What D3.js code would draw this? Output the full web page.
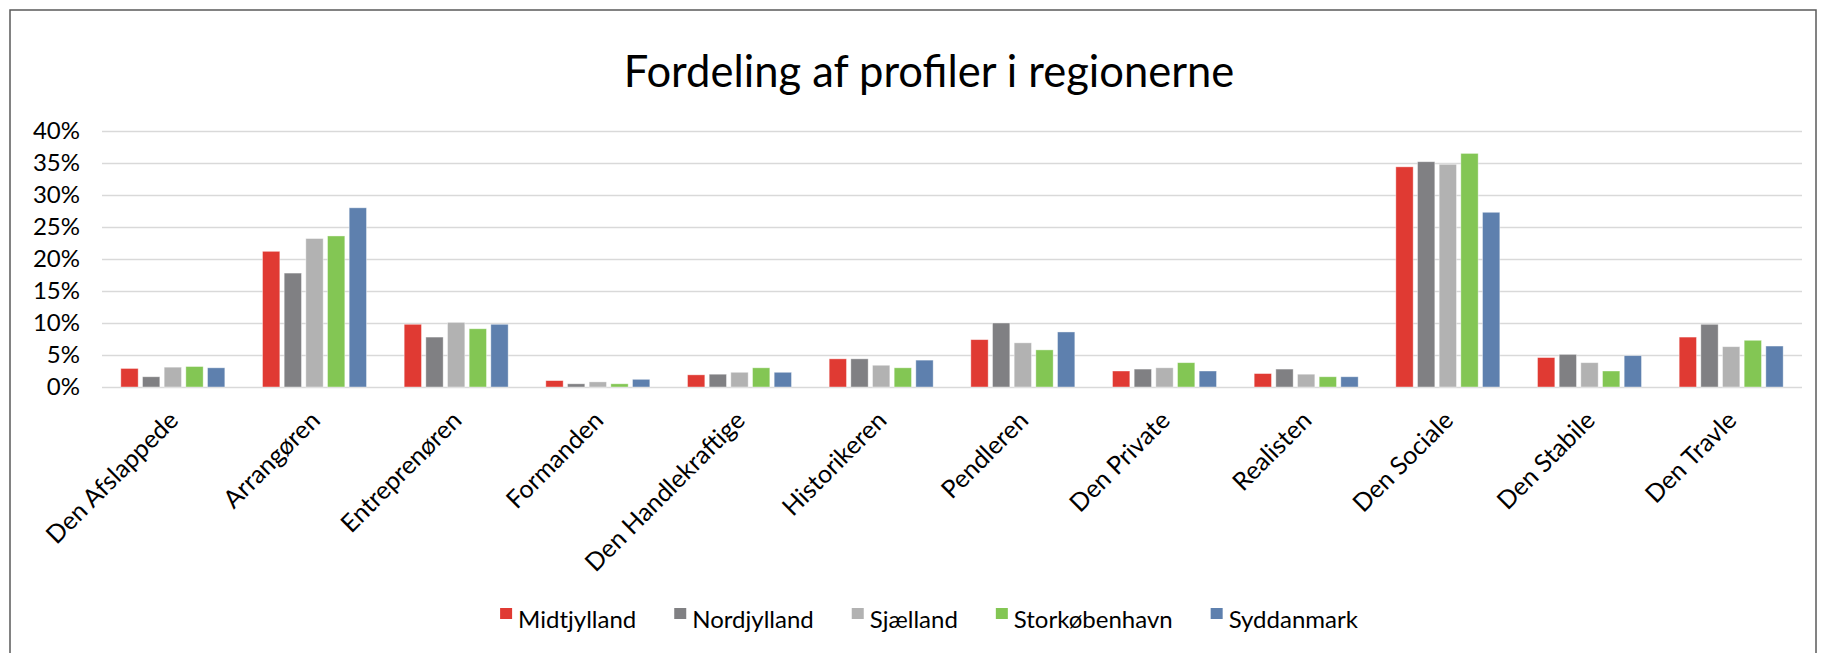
<!DOCTYPE html>
<html>
<head>
<meta charset="utf-8">
<script src="https://cdn.jsdelivr.net/npm/d3@7"></script>
<style>
  html, body { margin: 0; padding: 0; background: #fff; }
  svg { display: block; }
  text { font-family: Lato, "Open Sans", sans-serif; fill: #000; }
</style>
</head>
<body>
<svg id="chart" width="1824" height="653"></svg>
<script>
const title = "Fordeling af profiler i regionerne";
const categories = ["Den Afslappede", "Arrangøren", "Entreprenøren", "Formanden", "Den Handlekraftige", "Historikeren", "Pendleren", "Den Private", "Realisten", "Den Sociale", "Den Stabile", "Den Travle"];
const seriesNames = ["Midtjylland", "Nordjylland", "Sjælland", "Storkøbenhavn", "Syddanmark"];
const midtjylland   = [2.9, 21.2, 9.8, 1.0, 1.9, 4.4, 7.4, 2.5, 2.1, 34.4, 4.6, 7.8];
const nordjylland   = [1.6, 17.8, 7.8, 0.5, 2.0, 4.4, 10.0, 2.8, 2.8, 35.2, 5.1, 9.8];
const sjaelland     = [3.1, 23.2, 10.1, 0.8, 2.3, 3.4, 6.9, 3.0, 2.0, 34.8, 3.8, 6.3];
const storkobenhavn = [3.2, 23.6, 9.1, 0.5, 3.0, 3.0, 5.8, 3.8, 1.6, 36.5, 2.5, 7.3];
const syddanmark    = [3.0, 28.0, 9.8, 1.2, 2.3, 4.2, 8.6, 2.5, 1.6, 27.3, 4.9, 6.4];
const yTicks = [0, 5, 10, 15, 20, 25, 30, 35, 40];
const colors = ["#E03A33", "#808083", "#B2B2B2", "#83C654", "#5E80AE"];

const seriesValues = [midtjylland, nordjylland, sjaelland, storkobenhavn, syddanmark];
const table = categories.map((c, i) => ({
  category: c,
  values: seriesNames.map((s, j) => ({ series: s, value: seriesValues[j][i] }))
}));

const svg = d3.select("#chart");

// outer frame
svg.append("rect")
  .attr("x", 10).attr("y", 10)
  .attr("width", 1806).attr("height", 700)
  .attr("fill", "none").attr("stroke", "#5a5a5a").attr("stroke-width", 1.5);

// title
svg.append("text")
  .attr("x", 929).attr("y", 87)
  .attr("text-anchor", "middle")
  .attr("font-size", 43.5)
  .text(title);

const plotLeft = 102, plotRight = 1802, plotTop = 131, plotBottom = 387;

const y = d3.scaleLinear().domain([0, 40]).range([plotBottom, plotTop]);
const x0 = d3.scaleBand().domain(categories).range([plotLeft, plotRight]).padding(0);
const groupW = 104;
const x1 = d3.scaleBand().domain(seriesNames).range([0, groupW]).paddingInner(0.2);
const color = d3.scaleOrdinal().domain(seriesNames).range(colors);

// gridlines
const grid = svg.append("g")
  .attr("transform", `translate(${plotLeft},0)`)
  .call(d3.axisLeft(y).tickValues(yTicks).tickSize(-(plotRight - plotLeft)).tickFormat(""));
grid.select(".domain").remove();
grid.selectAll(".tick line").attr("stroke", "#D9D9D9").attr("stroke-width", 1.6);

// y axis labels
const yAxis = svg.append("g")
  .attr("transform", `translate(${plotLeft},0)`)
  .call(d3.axisLeft(y).tickValues(yTicks).tickSize(0).tickPadding(22).tickFormat(d => d + "%"));
yAxis.select(".domain").remove();
yAxis.selectAll("text").attr("font-size", 24).attr("font-family", "Lato, sans-serif").attr("fill", "#000");

// bars
const groups = svg.append("g").selectAll("g")
  .data(table).join("g")
  .attr("transform", d => `translate(${x0(d.category) + (x0.bandwidth() - groupW) / 2},0)`);
groups.selectAll("rect")
  .data(d => d.values).join("rect")
  .attr("x", d => x1(d.series))
  .attr("y", d => y(d.value))
  .attr("width", x1.bandwidth())
  .attr("height", d => y(0) - y(d.value))
  .attr("fill", d => color(d.series))
  .attr("stroke", "rgba(255,255,255,0.5)")
  .attr("stroke-width", 0.8);

// x axis labels
const xAxis = svg.append("g")
  .attr("transform", `translate(0,${plotBottom})`)
  .call(d3.axisBottom(x0).tickSize(0));
xAxis.select(".domain").remove();
xAxis.selectAll("text")
  .attr("x", 0).attr("y", 0).attr("dy", 0)
  .attr("text-anchor", "end")
  .attr("transform", "translate(7,35) rotate(-45)")
  .attr("font-size", 25)
  .attr("font-family", "Lato, sans-serif")
  .attr("fill", "#000");

// legend
const legend = svg.append("g");
const items = legend.selectAll("g").data(seriesNames).join("g");
items.append("rect")
  .attr("width", 12).attr("height", 11)
  .attr("y", 608)
  .attr("fill", d => color(d));
items.append("text")
  .attr("x", 18).attr("y", 628)
  .attr("font-size", 24)
  .text(d => d);
let cx = 0;
const offsets = [];
items.each(function () {
  offsets.push(cx);
  const w = d3.select(this).select("text").node().getComputedTextLength();
  cx += 18 + w + 38;
});
const total = cx - 38;
const startX = 929 - total / 2;
items.attr("transform", (d, i) => `translate(${startX + offsets[i]},0)`);
</script>
</body>
</html>
